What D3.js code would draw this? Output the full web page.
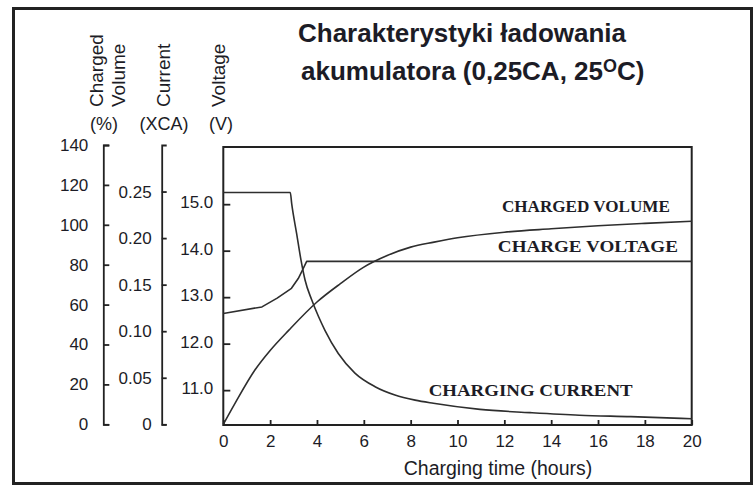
<!DOCTYPE html>
<meta charset="utf-8">
<html>
<head>
<style>
  body { margin: 0; background: #fff; }
  text { fill: #1c1c26; }
</style>
</head>
<body>
<script src="https://d3js.org/d3.v7.min.js"></script>
<div id="chart"></div>
<script>

// ---- values ----
var hourTicks = [0, 2, 4, 6, 8, 10, 12, 14, 16, 18, 20];
var volumeTicks = [0, 20, 40, 60, 80, 100, 120, 140];
var currentTicks = [0, 0.05, 0.10, 0.15, 0.20, 0.25];
var voltageTicks = [11, 12, 13, 14, 15];

// charged volume (%)
var volumeHours  = [0, 0.5, 1.35, 2, 2.8, 4, 5, 6, 7, 8, 9, 10, 12, 14, 16, 18, 20];
var volumeValues = [0, 10.5, 27.2, 37, 47.2, 61.3, 70.5, 78.8, 84.6, 88.8, 91.3, 93.5, 96.3, 98, 99.5, 100.7, 101.8];

// charging current (xCA)
var currentHours  = [0, 2.86, 2.92, 3.13, 3.32, 3.49, 3.77, 4.06, 4.34, 4.91, 5.62, 6.48, 7.33, 8.19, 8.97, 10.96, 13.1, 15.2, 17.4, 20];
var currentValues = [0.249, 0.249, 0.237, 0.205, 0.176, 0.155, 0.134, 0.116, 0.101, 0.076, 0.055, 0.0404, 0.0315, 0.026, 0.0226, 0.016, 0.0125, 0.0097, 0.0082, 0.006];

// charge voltage (V)
var voltageHours  = [0, 1.65, 2.3, 2.91, 3.2, 3.38, 3.56, 20];
var voltageValues = [12.65, 12.79, 12.98, 13.19, 13.40, 13.58, 13.77, 13.77];

var axisHeads = [["Charged", "Volume"], ["Current"], ["Voltage"]];
var axisUnits = ["(%)", "(XCA)", "(V)"];
var curveNames = ["CHARGED VOLUME", "CHARGE VOLTAGE", "CHARGING CURRENT"];
var xTitle = "Charging time (hours)";

// ---- layout ----
var W = 756, H = 486;
var plotL = 223.3, plotR = 691.7, plotT = 147, plotB = 425;
var sans = "'Liberation Sans', Arial, sans-serif";
var serif = "'Liberation Serif', 'Times New Roman', serif";

var svg = d3.select("#chart")
  .append("svg")
    .attr("width", W)
    .attr("height", H);

// outer frame
svg.append("rect")
    .attr("x", 13.5).attr("y", 8.5)
    .attr("width", 738).attr("height", 475)
    .attr("fill", "none")
    .attr("stroke", "#222")
    .attr("stroke-width", 3);

// title
var title = svg.append("text")
    .style("font-family", sans)
    .style("font-weight", "bold")
    .style("font-size", "26px");
title.append("tspan").attr("x", 298).attr("y", 41.5).text("Charakterystyki ładowania");
title.append("tspan").attr("x", 301).attr("y", 80).text("akumulatora (0,25CA, 25");
title.append("tspan").attr("dy", -8.5).style("font-size", "18px").text("O");
title.append("tspan").attr("dy", 8.5).text("C)");

// scales
var x = d3.scaleLinear().domain([0, 20]).range([plotL, plotR]);
var yVol = d3.scaleLinear().domain([0, 140]).range([424.3, 145]);
var yCur = d3.scaleLinear().domain([0, 0.3]).range([424.3, 145]);
var yVolt = d3.scaleLinear().domain([10.25, 16.23]).range([plotB, plotT]);

function styleAxis(g) {
  g.attr("font-family", sans).attr("font-size", 17);
  g.selectAll("line").attr("stroke", "#222").attr("stroke-width", 1.8);
  g.selectAll("path").attr("stroke", "#222").attr("stroke-width", 1.8);
  g.selectAll("text").attr("fill", "#1c1c26");
}

// charged volume axis
svg.append("g")
    .attr("transform", "translate(103.3,0)")
    .call(d3.axisLeft(yVol).tickValues(volumeTicks)
      .tickSizeInner(-6).tickSizeOuter(-6).tickPadding(15)
      .tickFormat(d3.format("d")))
    .call(styleAxis);

// current axis
svg.append("g")
    .attr("transform", "translate(161.7,0)")
    .call(d3.axisLeft(yCur).tickValues(currentTicks)
      .tickSizeInner(-5).tickSizeOuter(-5).tickPadding(10)
      .tickFormat(function(d) { return d === 0 ? "0" : d3.format(".2f")(d); }))
    .call(styleAxis);

// voltage axis (left side of plot)
svg.append("g")
    .attr("transform", "translate(" + plotL + ",0)")
    .call(d3.axisLeft(yVolt).tickValues(voltageTicks)
      .tickSizeInner(-7).tickSizeOuter(0).tickPadding(10)
      .tickFormat(d3.format(".1f")))
    .call(styleAxis)
    .call(function(g) {
      g.select(".domain").remove();
      g.selectAll("text").attr("dy", "0.2em");
    });

// time axis
svg.append("g")
    .attr("transform", "translate(0," + plotB + ")")
    .call(d3.axisBottom(x).tickValues(hourTicks)
      .tickSizeInner(-5).tickSizeOuter(0).tickPadding(10))
    .call(styleAxis)
    .call(function(g) { g.select(".domain").remove(); });

// plot box
svg.append("rect")
    .attr("x", plotL).attr("y", plotT)
    .attr("width", plotR - plotL).attr("height", plotB - plotT)
    .attr("fill", "none")
    .attr("stroke", "#222")
    .attr("stroke-width", 2);

// axis headers (rotated)
var headX = [[96.7, 118], [163], [218]];
axisHeads.forEach(function(lines, i) {
  lines.forEach(function(s, j) {
    svg.append("text")
        .attr("transform", "translate(" + headX[i][j] + ",107) rotate(-90)")
        .attr("dy", "0.35em")
        .style("font-family", sans)
        .style("font-size", "19px")
        .text(s);
  });
});
var unitX = [104, 164, 221];
axisUnits.forEach(function(s, i) {
  svg.append("text")
      .attr("x", unitX[i]).attr("y", 129.5)
      .attr("text-anchor", "middle")
      .style("font-family", sans)
      .style("font-size", "18px")
      .text(s);
});

// x title
svg.append("text")
    .attr("x", 498).attr("y", 475)
    .attr("text-anchor", "middle")
    .style("font-family", sans)
    .style("font-size", "19.5px")
    .text(xTitle);

// curves
function draw(hours, vals, y, curve) {
  var pts = hours.map(function(h, i) { return [h, vals[i]]; });
  svg.append("path")
      .datum(pts)
      .attr("fill", "none")
      .attr("stroke", "#2e2e2e")
      .attr("stroke-width", 1.6)
      .attr("stroke-linejoin", "round")
      .attr("d", d3.line()
        .x(function(d) { return x(d[0]); })
        .y(function(d) { return y(d[1]); })
        .curve(curve));
}
draw(volumeHours, volumeValues, yVol, d3.curveMonotoneX);
draw(currentHours, currentValues, yCur, d3.curveMonotoneX);
draw(voltageHours, voltageValues, yVolt, d3.curveLinear);

// curve labels
var labelPos = [
  {t: 19.07, y: yVol(106.2), w: 168},
  {t: 19.41, y: yVolt(13.97), w: 180},
  {t: 17.48, y: yCur(0.0299), w: 204}
];
curveNames.forEach(function(s, i) {
  svg.append("text")
      .attr("x", x(labelPos[i].t))
      .attr("y", labelPos[i].y)
      .attr("text-anchor", "end")
      .attr("textLength", labelPos[i].w)
      .attr("lengthAdjust", "spacingAndGlyphs")
      .style("font-family", serif)
      .style("font-weight", "bold")
      .style("font-size", "17px")
      .text(s);
});

</script>
</body>
</html>
